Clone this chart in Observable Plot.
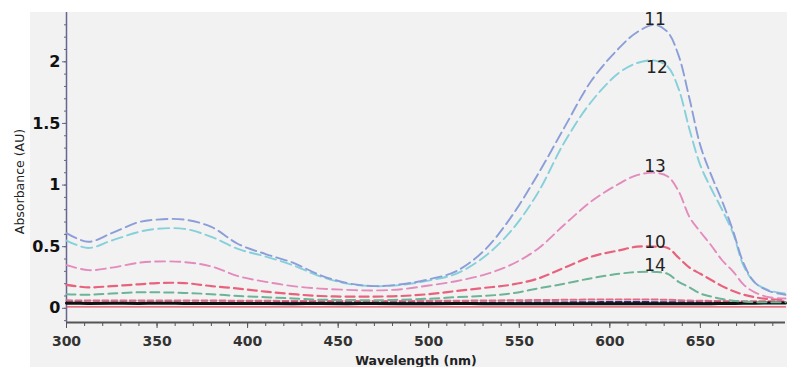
<!DOCTYPE html>
<html>
<head>
<meta charset="utf-8">
<script src="https://cdn.jsdelivr.net/npm/d3@7"></script>
<script src="https://cdn.jsdelivr.net/npm/@observablehq/plot@0.6"></script>
<style>
  html, body { margin: 0; padding: 0; background: #fff; }
  #chart {
    width: 787px; height: 367px; overflow: hidden;
    background: linear-gradient(to right, #fff 0 30px, transparent 30px),
                linear-gradient(to bottom, #fff 0 12px, #f2f2f2 12px);
  }
</style>
</head>
<body>
<div id="chart"></div>
<script>
// ---- data ----
const wavelengths = [300, 312, 325, 340, 350, 365, 380, 395, 410, 425, 440, 455, 470, 485, 500, 515, 530, 545, 560, 575, 590, 605, 615, 625, 632, 638, 644, 650, 656, 662, 668, 674, 680, 688, 697];

const s11 = [0.61, 0.54, 0.61, 0.70, 0.72, 0.72, 0.66, 0.52, 0.44, 0.37, 0.27, 0.205, 0.18, 0.195, 0.235, 0.30, 0.46, 0.73, 1.08, 1.47, 1.85, 2.11, 2.24, 2.30, 2.24, 2.05, 1.70, 1.32, 1.08, 0.87, 0.63, 0.36, 0.21, 0.14, 0.11];
const s12 = [0.55, 0.49, 0.55, 0.62, 0.645, 0.645, 0.58, 0.48, 0.42, 0.35, 0.26, 0.20, 0.18, 0.19, 0.225, 0.28, 0.41, 0.62, 0.93, 1.35, 1.68, 1.91, 1.99, 2.01, 1.96, 1.78, 1.45, 1.16, 0.97, 0.80, 0.61, 0.34, 0.21, 0.145, 0.12];
const s13 = [0.35, 0.31, 0.33, 0.37, 0.38, 0.375, 0.34, 0.26, 0.215, 0.18, 0.16, 0.15, 0.145, 0.155, 0.185, 0.22, 0.27, 0.35, 0.48, 0.68, 0.87, 1.01, 1.08, 1.10, 1.07, 0.95, 0.74, 0.62, 0.51, 0.39, 0.30, 0.19, 0.13, 0.09, 0.08];
const s10 = [0.19, 0.17, 0.18, 0.195, 0.205, 0.205, 0.18, 0.16, 0.135, 0.115, 0.10, 0.095, 0.095, 0.10, 0.115, 0.14, 0.165, 0.19, 0.24, 0.33, 0.42, 0.47, 0.50, 0.50, 0.49, 0.41, 0.33, 0.28, 0.23, 0.18, 0.14, 0.11, 0.09, 0.075, 0.07];
const s14 = [0.115, 0.11, 0.12, 0.13, 0.13, 0.125, 0.115, 0.10, 0.09, 0.08, 0.07, 0.068, 0.065, 0.07, 0.078, 0.09, 0.10, 0.12, 0.16, 0.20, 0.245, 0.28, 0.295, 0.295, 0.28, 0.215, 0.17, 0.12, 0.095, 0.075, 0.062, 0.055, 0.05, 0.05, 0.05];
const baseBlack = [0.042, 0.040, 0.041, 0.040, 0.041, 0.040, 0.039, 0.040, 0.039, 0.038, 0.039, 0.038, 0.039, 0.038, 0.038, 0.039, 0.038, 0.037, 0.038, 0.037, 0.038, 0.038, 0.037, 0.038, 0.037, 0.038, 0.037, 0.038, 0.038, 0.039, 0.040, 0.041, 0.042, 0.043, 0.043];
const baseNavy = [0.048, 0.046, 0.046, 0.046, 0.046, 0.046, 0.046, 0.045, 0.045, 0.045, 0.045, 0.045, 0.045, 0.045, 0.045, 0.045, 0.045, 0.046, 0.047, 0.048, 0.050, 0.051, 0.051, 0.050, 0.049, 0.048, 0.047, 0.046, 0.046, 0.046, 0.046, 0.046, 0.046, 0.046, 0.046];
const baseRedDash = [0.065, 0.063, 0.063, 0.063, 0.064, 0.064, 0.063, 0.062, 0.061, 0.060, 0.060, 0.060, 0.060, 0.060, 0.061, 0.062, 0.063, 0.065, 0.067, 0.069, 0.071, 0.072, 0.072, 0.071, 0.069, 0.066, 0.063, 0.061, 0.060, 0.059, 0.058, 0.058, 0.058, 0.058, 0.058];
const baseRed = [0.012, 0.011, 0.011, 0.011, 0.011, 0.011, 0.011, 0.011, 0.011, 0.011, 0.011, 0.011, 0.011, 0.011, 0.011, 0.011, 0.011, 0.011, 0.011, 0.011, 0.011, 0.011, 0.011, 0.011, 0.011, 0.011, 0.011, 0.011, 0.011, 0.011, 0.011, 0.011, 0.011, 0.011, 0.011];

const labelText = ["11", "12", "13", "10", "14"];
const labelX = [625, 626, 625, 625, 625];
const labelY = [2.34, 1.95, 1.15, 0.53, 0.345];

const xMajorTicks = [300, 350, 400, 450, 500, 550, 600, 650];
const yMajorTicks = [0, 0.5, 1, 1.5, 2];
const xAxisLabel = "Wavelength (nm)";
const yAxisLabel = "Absorbance (AU)";

// ---- scale extents ----
const xDomain = [300, 697];
const yDomain = [-0.115, 2.4];

// ---- styles per series ----
const seriesDefs = [
  {name: "baseRed", values: baseRed, stroke: "#e2485f", width: 1.3, dash: null},
  {name: "baseRedDash", values: baseRedDash, stroke: "#e8687f", width: 2, dash: "6,3"},
  {name: "baseNavy", values: baseNavy, stroke: "#23307f", width: 2, dash: "6,3"},
  {name: "baseBlack", values: baseBlack, stroke: "#111111", width: 3, dash: null},
  {name: "14", values: s14, stroke: "#6db396", width: 2, dash: "9,5"},
  {name: "10", values: s10, stroke: "#e8627d", width: 2.2, dash: "9,5"},
  {name: "13", values: s13, stroke: "#e48bbd", width: 1.9, dash: "10,5"},
  {name: "12", values: s12, stroke: "#86d0db", width: 1.9, dash: "11,5"},
  {name: "11", values: s11, stroke: "#8b9ed9", width: 1.9, dash: "11,5"}
];

const marks = [];
for (const s of seriesDefs) {
  const rows = wavelengths.map((w, i) => ({w, a: s.values[i]}));
  marks.push(Plot.line(rows, {
    x: "w", y: "a", curve: "catmull-rom",
    stroke: s.stroke, strokeWidth: s.width,
    strokeDasharray: s.dash || undefined
  }));
}

const labels = labelText.map((t, i) => ({t, x: labelX[i], y: labelY[i]}));

const plot = Plot.plot({
  width: 787,
  height: 367,
  marginLeft: 66,
  marginRight: 2,
  marginTop: 12,
  marginBottom: 45,
  style: {background: "transparent", fontFamily: "DejaVu Sans", overflow: "visible"},
  x: {domain: xDomain},
  y: {domain: yDomain},
  marks: [
    // axis lines
    Plot.ruleY([yDomain[0]], {stroke: "#555", strokeWidth: 2}),
    Plot.ruleX([xDomain[0]], {stroke: "#66668f", strokeWidth: 1.5}),
    // minor ticks
    Plot.axisX({ticks: d3.range(300, 700, 10), tickSize: 4, text: null, stroke: "#555", label: null}),
    Plot.axisY({ticks: d3.range(-1, 24).map(d => d / 10), tickSize: 2, text: null, stroke: "#66668f", label: null}),
    // major ticks + labels
    Plot.axisX({ticks: xMajorTicks, tickSize: 6, tickPadding: 8, fontSize: 14, fontWeight: "bold",
      fill: "#333", stroke: "#555", tickFormat: d => String(d), label: null}),
    Plot.axisY({ticks: yMajorTicks, tickSize: 4, tickPadding: 2, fontSize: 16, fontWeight: "bold",
      fill: "#111", stroke: "#66668f", tickFormat: d => String(d), label: null}),
    ...marks,
    Plot.text(labels, {x: "x", y: "y", text: "t", fontSize: 17, fill: "#222", fontFamily: "DejaVu Sans"}),
    Plot.text([yAxisLabel], {frameAnchor: "left", rotate: -90, dx: -47, dy: 14,
      textAnchor: "middle", lineAnchor: "middle", fontSize: 12.5, fill: "#222"}),
    Plot.text([xAxisLabel], {frameAnchor: "bottom", dx: -10, dy: 38,
      textAnchor: "middle", lineAnchor: "middle", fontSize: 12.5, fontWeight: "bold", fill: "#222"})
  ]
});

document.getElementById("chart").appendChild(plot);
</script>
</body>
</html>
